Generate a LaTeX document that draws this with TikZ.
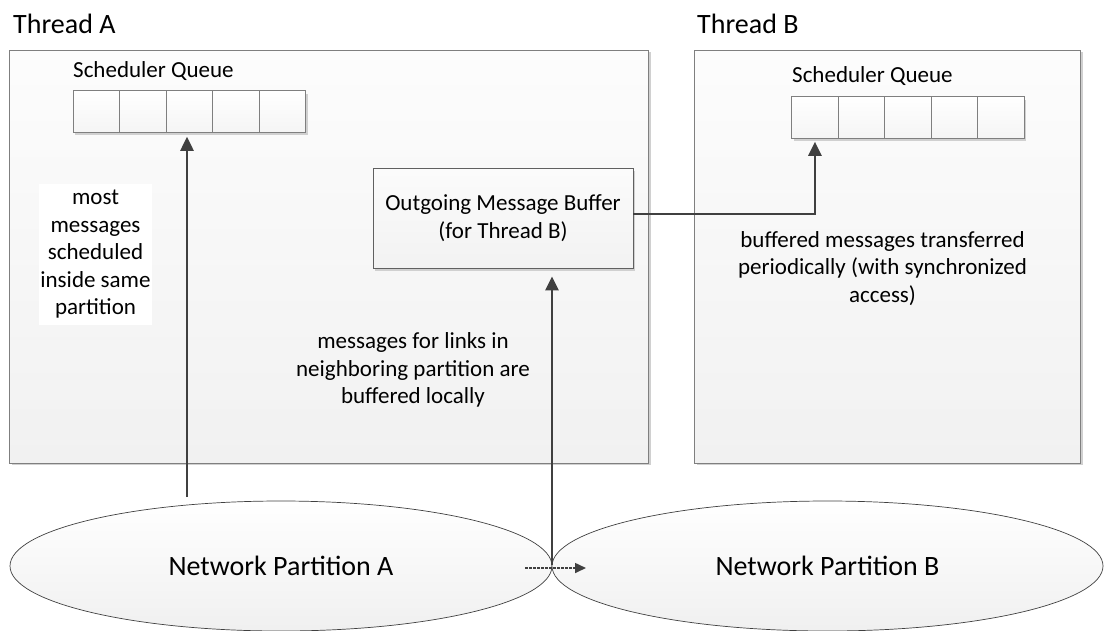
\documentclass[tikz,border=0pt]{standalone}
\usepackage{fontspec}
\setmainfont{Carlito}
\usetikzlibrary{arrows.meta,shadows,shapes.geometric}
\definecolor{edgegray}{HTML}{7F7F7F}
\definecolor{darkgray}{HTML}{404040}
\definecolor{shadowgray}{HTML}{D0D0D0}
\tikzset{
  threadbox/.style={draw=edgegray, line width=0.9pt, top color=gray!2, bottom color=gray!11,
    minimum width=#1, minimum height=413pt, inner sep=0pt,
    drop shadow={shadow xshift=3pt, shadow yshift=-2pt, fill=shadowgray, opacity=1}},
  cell/.style={draw=edgegray, line width=0.9pt, top color=white, bottom color=gray!8,
    minimum width=46.5pt, minimum height=41.6pt, inner sep=0pt,
    drop shadow={shadow xshift=2pt, shadow yshift=-3pt, fill=shadowgray, opacity=1}},
  bufbox/.style={draw=gray!75!black, line width=0.9pt, top color=gray!3, bottom color=gray!10,
    minimum width=260pt, minimum height=100pt, inner sep=0pt, align=center,
    drop shadow={shadow xshift=2pt, shadow yshift=-3pt, fill=shadowgray, opacity=1}},
  partition/.style={ellipse, draw=darkgray, line width=0.7pt, top color=white, bottom color=gray!12,
    inner sep=0pt, minimum height=130pt},
  body/.style={font=\fontsize{23}{27.5}\selectfont, text=black, inner sep=0pt},
  title/.style={font=\fontsize{28}{33}\selectfont, text=black, inner sep=0pt},
  bigarrow/.style={draw=darkgray, line width=2.5pt, -{Triangle[length=14pt,width=13pt]}},
  dotarrow/.style={draw=darkgray, line width=1.6pt, dash pattern=on 2.5pt off 1.5pt, -{Triangle[length=11pt,width=10pt]}},
}
\begin{document}
\begin{tikzpicture}[x=1pt,y=-1pt]
\useasboundingbox (0,0) rectangle (1108,630);

% thread containers
\node[threadbox=639pt] (thA) at (328.5,256.5) {};
\node[threadbox=386pt] (thB) at (887,256.5) {};
\node[title, anchor=base west] (labA) at (13,33) {Thread A};
\node[title, anchor=base west] (labB) at (697,33) {Thread B};

% scheduler queues
\node[body, anchor=base west] (sqA) at (73,77) {Scheduler Queue};
\node[body, anchor=base west] (sqB) at (792,82) {Scheduler Queue};
\foreach \i in {1,...,5} {
  \node[cell] (qa\i) at ({73.3+46.5*(\i-0.5)},111.5) {};
  \node[cell] (qb\i) at ({791.7+46.5*(\i-0.5)},117.5) {};
}

% outgoing buffer
\node[bufbox, body] (buf) at (503,218) {Outgoing Message Buffer\\(for Thread B)};

% note box on the left
\node[body, fill=white, minimum width=113pt, minimum height=141pt, align=center] (note) at (95.5,254.5)
  {most\\messages\\scheduled\\inside same\\partition};

% texts
\node[body, align=center] (msgtxt) at (413,370)
  {messages for links in\\neighboring partition are\\buffered locally};
\node[body, align=center] (buftxt) at (882.5,268.5)
  {buffered messages transferred\\periodically (with synchronized\\access)};

% partitions
\node[partition, minimum width=542pt, font=\fontsize{28}{33}\selectfont] (pA) at (281,566) {Network Partition A};
\node[partition, minimum width=551pt, font=\fontsize{28}{33}\selectfont] (pB) at (827.5,566) {Network Partition B};

% connectors
\coordinate (srcA) at (187,497);
\coordinate (touch) at (552,565);
\coordinate (da1) at (525,568);
\coordinate (da2) at (586,568);
\draw[bigarrow, shorten >=4pt] (srcA) -- (srcA |- qa3.south);
\draw[bigarrow, shorten >=8pt] (touch) -- (touch |- buf.south);
\draw[bigarrow, shorten >=3pt] ([yshift=4pt]buf.east) -| (qb1.south);
\draw[dotarrow] (da1) -- (da2);
\end{tikzpicture}
\end{document}
